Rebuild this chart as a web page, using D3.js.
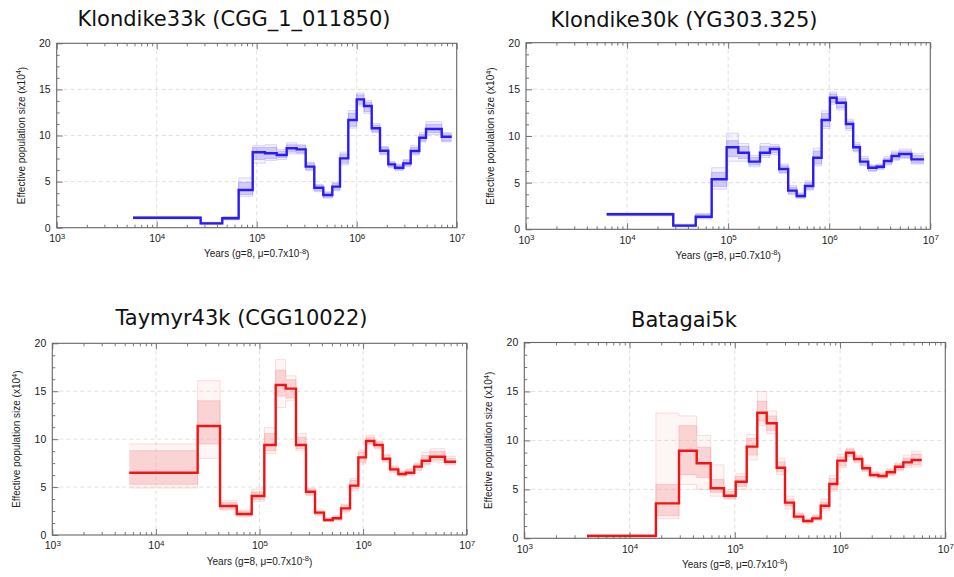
<!DOCTYPE html>
<html>
<head>
<meta charset="utf-8">
<script src="https://cdn.jsdelivr.net/npm/d3@7"></script>
<style>
  html, body { margin: 0; padding: 0; background: #fff; }
  svg { display: block; }
  .tick-label { font-family: "Liberation Sans", Arial, sans-serif; font-size: 10.5px; fill: #222; }
  .axis-title { font-family: "Liberation Sans", Arial, sans-serif; font-size: 10px; fill: #222; }
  .panel-title { font-family: "DejaVu Sans", sans-serif; font-size: 21px; fill: #111; }
</style>
</head>
<body>
<svg id="chart" width="954" height="577"></svg>
<script>
// ---- axis ticks ----
const xDecades = [3, 4, 5, 6, 7];          // labels 10^3 ... 10^7
const yTicks = [0, 5, 10, 15, 20];          // effective population size (x10^4)

// ---- Klondike33k (CGG_1_011850): PSMC step boundaries (years) and Ne (x10^4) ----
const k33Years = [5800, 27500, 45300, 66000, 91200, 121100, 158500, 199500, 251200, 309000, 376700, 463400, 570200, 680800, 824100, 1000000, 1183000, 1413000, 1710000, 2070000, 2415000, 2924000, 3467000, 4227000, 4932000, 7079000, 8913000];
const k33Ne    = [1.08, 0.47, 1.02, 4.09, 8.18, 8.07, 7.88, 8.61, 8.5, 6.62, 4.34, 3.55, 4.45, 7.52, 11.68, 13.92, 13.2, 10.78, 8.35, 6.87, 6.51, 6.98, 8.32, 9.76, 10.7, 9.87];
const k33Lo    = [1.0, 0.4, 0.9, 3.6, 7.4, 7.5, 7.6, 8.2, 8.1, 6.3, 4.0, 3.3, 4.1, 7.0, 11.0, 13.4, 12.6, 10.4, 8.0, 6.6, 6.3, 6.7, 8.0, 9.4, 10.3, 9.4];
const k33Hi    = [1.15, 0.55, 1.15, 4.9, 8.7, 8.7, 8.3, 9.0, 8.9, 7.0, 4.6, 3.8, 4.8, 8.0, 12.4, 14.4, 13.6, 11.1, 8.7, 7.1, 6.8, 7.3, 8.7, 10.1, 11.2, 10.2];
const k33Lo2   = [0.95, 0.35, 0.85, 3.4, 7.0, 7.3, 7.4, 8.0, 8.0, 6.2, 3.9, 3.2, 4.0, 6.8, 10.8, 13.2, 12.4, 10.3, 7.9, 6.5, 6.2, 6.6, 7.9, 9.3, 10.1, 9.3];
const k33Hi2   = [1.2, 0.6, 1.2, 5.4, 8.9, 9.0, 8.5, 9.2, 9.0, 7.1, 4.7, 3.9, 4.9, 8.2, 12.7, 14.6, 13.8, 11.3, 8.8, 7.2, 6.9, 7.4, 8.9, 10.3, 11.5, 10.3];

// ---- Klondike30k (YG303.325) ----
const k30Years = [6280, 28640, 47750, 68700, 96600, 126000, 160600, 206500, 259000, 320000, 392800, 476000, 575400, 695000, 841000, 1016000, 1183000, 1462000, 1727000, 2012000, 2432000, 2944000, 3476000, 4140000, 4921000, 6501000, 8650000];
const k30Ne    = [1.61, 0.39, 1.35, 5.36, 8.79, 8.21, 7.25, 8.21, 8.61, 6.46, 4.14, 3.57, 4.64, 7.67, 11.71, 14.1, 13.57, 11.29, 8.79, 7.25, 6.6, 6.71, 7.32, 7.86, 8.07, 7.5];
const k30Lo    = [1.5, 0.3, 1.2, 4.6, 7.8, 7.6, 6.9, 7.9, 8.2, 6.1, 3.8, 3.4, 4.3, 7.0, 11.0, 13.6, 13.0, 10.8, 8.4, 6.9, 6.3, 6.5, 7.0, 7.5, 7.7, 7.1];
const k30Hi    = [1.7, 0.5, 1.6, 6.1, 9.5, 8.9, 7.7, 8.9, 8.9, 6.8, 4.5, 3.8, 5.0, 8.4, 12.4, 14.5, 14.0, 11.6, 9.1, 7.6, 6.8, 6.9, 7.6, 8.2, 8.4, 7.9];
const k30Lo2   = [1.45, 0.25, 1.1, 4.3, 7.3, 7.3, 6.7, 7.7, 8.0, 6.0, 3.7, 3.3, 4.2, 6.8, 10.8, 13.4, 12.8, 10.6, 8.3, 6.8, 6.2, 6.4, 6.9, 7.4, 7.6, 7.0];
const k30Hi2   = [1.75, 0.55, 1.7, 6.6, 10.3, 9.2, 7.9, 9.2, 9.1, 7.0, 4.7, 3.9, 5.2, 8.7, 12.7, 14.7, 14.2, 11.8, 9.3, 7.8, 6.9, 7.0, 7.8, 8.4, 8.6, 8.1];

// ---- Taymyr43k (CGG10022) ----
const t43Years = [5530, 25300, 41600, 60300, 84100, 111300, 143300, 179000, 225000, 281000, 343500, 419600, 509000, 612600, 748000, 899500, 1067000, 1283000, 1546000, 1820000, 2188000, 2594000, 3119000, 3680000, 4426000, 6180000, 7888000];
const t43Ne    = [6.5, 11.37, 3.03, 2.19, 4.07, 9.39, 15.65, 15.27, 9.39, 4.52, 2.33, 1.56, 1.74, 2.78, 5.15, 8.1, 9.81, 9.39, 7.96, 6.85, 6.36, 6.5, 7.13, 7.75, 8.17, 7.65];
const t43Lo    = [5.3, 9.5, 2.7, 2.0, 3.7, 8.8, 14.5, 14.3, 9.0, 4.2, 2.1, 1.45, 1.6, 2.5, 4.8, 7.6, 9.5, 9.1, 7.7, 6.6, 6.2, 6.3, 6.8, 7.4, 7.8, 7.4];
const t43Hi    = [8.8, 14.0, 3.4, 2.5, 4.5, 10.6, 17.2, 16.2, 10.2, 4.8, 2.5, 1.7, 1.9, 3.1, 5.7, 8.6, 10.2, 9.7, 8.3, 7.1, 6.6, 6.8, 7.4, 8.3, 8.7, 8.0];
const t43Lo2   = [4.9, 8.0, 2.6, 1.9, 3.5, 8.5, 13.3, 14.0, 8.8, 4.1, 2.0, 1.4, 1.5, 2.4, 4.6, 7.4, 9.4, 9.0, 7.6, 6.5, 6.1, 6.2, 6.7, 7.3, 7.6, 7.3];
const t43Hi2   = [9.5, 16.1, 3.6, 2.6, 4.8, 11.2, 18.3, 16.6, 10.6, 4.9, 2.6, 1.8, 2.0, 3.2, 5.9, 8.8, 10.4, 9.8, 8.4, 7.2, 6.7, 6.9, 7.5, 8.6, 9.0, 8.2];

// ---- Batagai5k ----
const b5Years = [3945, 17800, 29500, 43450, 59000, 78900, 102000, 129800, 163600, 201000, 250000, 300000, 364800, 447700, 544500, 654600, 790700, 941900, 1140000, 1358000, 1626000, 1926000, 2309000, 2772000, 3327000, 3990000, 4797000, 5970000];
const b5Ne    = [0.25, 3.57, 8.95, 7.66, 5.11, 4.35, 5.78, 9.36, 12.83, 11.75, 7.21, 3.64, 2.21, 1.77, 2.04, 3.33, 5.55, 7.93, 8.74, 8.1, 7.15, 6.47, 6.36, 6.74, 7.31, 7.76, 8.0];
const b5Lo    = [0.15, 2.3, 6.5, 6.2, 4.7, 4.1, 5.3, 8.5, 12.0, 11.0, 6.8, 3.3, 2.0, 1.6, 1.9, 3.0, 5.0, 7.4, 8.4, 7.8, 6.9, 6.3, 6.2, 6.5, 7.0, 7.4, 7.5];
const b5Hi    = [0.35, 5.5, 11.5, 9.3, 6.0, 4.8, 6.3, 10.2, 14.0, 12.5, 7.8, 4.0, 2.5, 1.9, 2.3, 3.7, 6.1, 8.3, 9.1, 8.4, 7.4, 6.7, 6.6, 7.0, 7.6, 8.2, 8.6];
const b5Lo2   = [0.1, 2.0, 5.5, 5.0, 4.3, 4.0, 5.0, 8.0, 11.5, 10.7, 6.5, 3.0, 1.9, 1.5, 1.8, 2.8, 4.8, 7.2, 8.3, 7.7, 6.8, 6.2, 6.1, 6.4, 6.9, 7.2, 7.3];
const b5Hi2   = [0.4, 12.8, 12.5, 10.5, 7.5, 5.0, 6.6, 10.6, 15.0, 13.0, 8.2, 4.3, 2.6, 2.0, 2.4, 4.0, 6.4, 8.6, 9.2, 8.5, 7.5, 6.8, 6.7, 7.1, 7.7, 8.5, 8.9];

const BLUE = { line: "#2a1cf2", band: "#8f86f4" };
const RED  = { line: "#f01414", band: "#f59a9a" };

const panels = [
  { title: "Klondike33k (CGG_1_011850)", years: k33Years, ne: k33Ne, lo: k33Lo, hi: k33Hi, lo2: k33Lo2, hi2: k33Hi2,
    col: BLUE, box: [56.7, 456.7, 43.3, 227.7], titleX: 234, titleY: 26 },
  { title: "Klondike30k (YG303.325)", years: k30Years, ne: k30Ne, lo: k30Lo, hi: k30Hi, lo2: k30Lo2, hi2: k30Hi2,
    col: BLUE, box: [526, 930.3, 42.7, 229.3], titleX: 684, titleY: 27 },
  { title: "Taymyr43k (CGG10022)", years: t43Years, ne: t43Ne, lo: t43Lo, hi: t43Hi, lo2: t43Lo2, hi2: t43Hi2,
    col: RED, box: [52.3, 466.7, 343.3, 535], titleX: 241.5, titleY: 325 },
  { title: "Batagai5k", years: b5Years, ne: b5Ne, lo: b5Lo, hi: b5Hi, lo2: b5Lo2, hi2: b5Hi2,
    col: RED, box: [524.3, 945.3, 342.5, 538.3], titleX: 684, titleY: 326.5 }
];

const svg = d3.select("#chart");

// step series: one point per boundary, last value repeated at the final boundary
function stepPoints(years, ...series) {
  const n = series[0].length;
  return years.map((t, i) => {
    const k = Math.min(i, n - 1);
    return { t, v: series.map(s => s[k]) };
  });
}

function drawPanel(p) {
  const [x0, x1, y0, y1] = p.box;
  const x = d3.scaleLog().domain([1e3, 1e7]).range([x0, x1]);
  const y = d3.scaleLinear().domain([0, 20]).range([y1, y0]);
  const g = svg.append("g");

  // title
  g.append("text").attr("class", "panel-title")
    .attr("x", p.titleX).attr("y", p.titleY).attr("text-anchor", "middle").text(p.title);

  // dashed grid
  const grid = g.append("g").attr("stroke", "#d8d8d8").attr("stroke-width", 0.8).attr("stroke-dasharray", "4,3");
  xDecades.slice(1, -1).forEach(e => {
    grid.append("line").attr("x1", x(10 ** e)).attr("x2", x(10 ** e)).attr("y1", y0).attr("y2", y1);
  });
  yTicks.slice(1, -1).forEach(v => {
    grid.append("line").attr("x1", x0).attr("x2", x1).attr("y1", y(v)).attr("y2", y(v));
  });

  // bootstrap envelopes
  const pts = stepPoints(p.years, p.lo, p.hi, p.lo2, p.hi2);
  const outer = d3.area().curve(d3.curveStepAfter).x(d => x(d.t)).y0(d => y(d.v[2])).y1(d => y(d.v[3]));
  const inner = d3.area().curve(d3.curveStepAfter).x(d => x(d.t)).y0(d => y(d.v[0])).y1(d => y(d.v[1]));
  g.append("path").attr("d", outer(pts)).attr("fill", p.col.band).attr("fill-opacity", 0.1);
  g.append("path").attr("d", inner(pts)).attr("fill", p.col.band).attr("fill-opacity", 0.36);
  [2, 3, 0, 1].forEach(k => {
    const ln = d3.line().curve(d3.curveStepAfter).x(d => x(d.t)).y(d => y(d.v[k]));
    g.append("path").attr("d", ln(pts)).attr("fill", "none")
      .attr("stroke", p.col.band).attr("stroke-width", 0.7).attr("stroke-opacity", k < 2 ? 0.6 : 0.45);
  });

  // main estimate
  const main = stepPoints(p.years, p.ne);
  const line = d3.line().curve(d3.curveStepAfter).x(d => x(d.t)).y(d => y(d.v[0]));
  g.append("path").attr("d", line(main)).attr("fill", "none")
    .attr("stroke", p.col.line).attr("stroke-width", 2.4).attr("stroke-linejoin", "miter");

  // ticks (inward), bottom and top
  const minor = [];
  for (let e = 3; e < 7; e++) for (let m = 2; m <= 9; m++) minor.push(m * 10 ** e);
  const majors = xDecades.map(e => 10 ** e);

  const styleAxis = sel => {
    sel.select(".domain").remove();
    sel.selectAll(".tick line").attr("stroke", "#555").attr("stroke-width", 0.8);
  };

  g.append("g").attr("transform", `translate(0,${y1})`)
    .call(d3.axisBottom(x).tickValues(minor).tickSizeInner(-3).tickFormat(""))
    .call(styleAxis);
  g.append("g").attr("transform", `translate(0,${y0})`)
    .call(d3.axisTop(x).tickValues(minor).tickSizeInner(-3).tickFormat(""))
    .call(styleAxis);
  g.append("g").attr("transform", `translate(0,${y0})`)
    .call(d3.axisTop(x).tickValues(majors).tickSizeInner(-6).tickFormat(""))
    .call(styleAxis);

  const xb = g.append("g").attr("transform", `translate(0,${y1})`)
    .call(d3.axisBottom(x).tickValues(majors).tickSizeInner(-6).tickPadding(7).tickFormat(""))
    .call(styleAxis);
  xb.selectAll(".tick text").each(function (d) {
    const t = d3.select(this).attr("class", "tick-label").attr("fill", null).attr("font-size", null).attr("font-family", null);
    t.append("tspan").text("10");
    t.append("tspan").attr("dy", "-0.45em").attr("font-size", "8px").text(Math.round(Math.log10(d)));
  });

  // y ticks: minor every 1.25, majors labelled
  const yMinor = d3.range(0, 20.01, 1.25).filter(v => v % 5 !== 0);
  g.append("g").attr("transform", `translate(${x0},0)`)
    .call(d3.axisLeft(y).tickValues(yMinor).tickSizeInner(-3).tickFormat(""))
    .call(styleAxis);
  const yl = g.append("g").attr("transform", `translate(${x0},0)`)
    .call(d3.axisLeft(y).tickValues(yTicks).tickSizeInner(-6).tickPadding(6).tickFormat(d3.format("d")))
    .call(styleAxis);
  yl.selectAll(".tick text").attr("class", "tick-label").attr("fill", null).attr("font-size", null).attr("font-family", null);

  // frame
  g.append("rect").attr("x", x0).attr("y", y0).attr("width", x1 - x0).attr("height", y1 - y0)
    .attr("fill", "none").attr("stroke", "#666").attr("stroke-width", 1.1);

  // axis titles
  const xt = g.append("text").attr("class", "axis-title")
    .attr("x", (x0 + x1) / 2).attr("y", y1 + 29.5).attr("text-anchor", "middle");
  xt.append("tspan").text("Years (g=8, \u03bc=0.7x10");
  xt.append("tspan").attr("dy", "-0.45em").attr("font-size", "7.5px").text("-8");
  xt.append("tspan").attr("dy", "0.45em").text(")");

  const yt = g.append("text").attr("class", "axis-title")
    .attr("transform", `translate(${x0 - 32},${(y0 + y1) / 2}) rotate(-90)`)
    .attr("text-anchor", "middle");
  yt.append("tspan").text("Effective population size (x10");
  yt.append("tspan").attr("dy", "-0.45em").attr("font-size", "7.5px").text("4");
  yt.append("tspan").attr("dy", "0.45em").text(")");
}

panels.forEach(drawPanel);
</script>
</body>
</html>
